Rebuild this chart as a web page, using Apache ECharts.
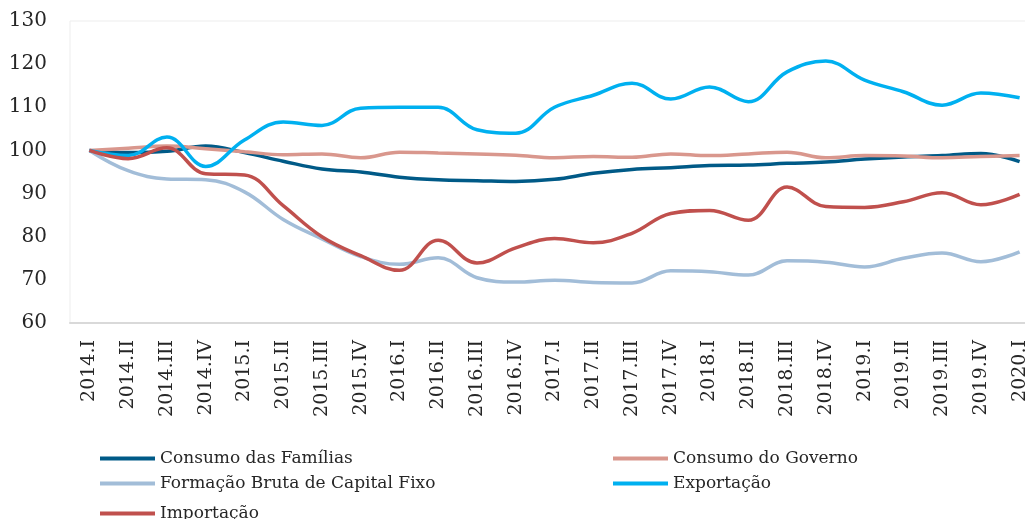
<!DOCTYPE html>
<html>
<head>
<meta charset="utf-8">
<script src="https://cdn.jsdelivr.net/npm/echarts@6/dist/echarts.min.js"></script>
<style>
  html, body { margin: 0; padding: 0; background: #fff; }
  #chart { width: 1025px; height: 519px; }
</style>
</head>
<body>
<div id="chart"></div>
<script>
// trimestres
const categories = [
  '2014.I', '2014.II', '2014.III', '2014.IV',
  '2015.I', '2015.II', '2015.III', '2015.IV',
  '2016.I', '2016.II', '2016.III', '2016.IV',
  '2017.I', '2017.II', '2017.III', '2017.IV',
  '2018.I', '2018.II', '2018.III', '2018.IV',
  '2019.I', '2019.II', '2019.III', '2019.IV',
  '2020.I'
];

// índices (2014.I = 100)
const consumoFamilias = [
  100, 99.5, 99.8, 101, 99.5, 97.5, 95.7, 95, 93.8, 93.2, 93, 92.8,
  93.3, 94.7, 95.6, 96, 96.5, 96.6, 97, 97.3, 98, 98.5, 98.8, 99.3, 97.4
];
const consumoGoverno = [
  100, 100.5, 101, 100.4, 99.7, 99, 99.2, 98.3, 99.6, 99.4, 99.2, 98.9,
  98.3, 98.6, 98.4, 99.2, 98.8, 99.2, 99.6, 98.3, 98.8, 98.7, 98.3, 98.6, 98.8
];
const formacaoBruta = [
  100, 95.3, 93.4, 93.2, 90.4, 84, 79.5, 75.4, 73.6, 75.1, 70.5, 69.5,
  69.9, 69.4, 69.3, 72.1, 71.9, 71.1, 74.4, 74.1, 73, 75, 76.2, 74.2, 76.5
];
const exportacao = [
  100, 98.8, 103.1, 96.3, 102.4, 106.6, 105.8, 109.8, 110, 110, 104.8, 104,
  110, 112.8, 115.6, 111.9, 114.7, 111.3, 118.2, 120.7, 116.3, 113.6, 110.5, 113.3, 112.2
];
const importacao = [
  100, 98.1, 100.6, 94.6, 94.3, 87.2, 80, 75.6, 72.2, 79.2, 73.9, 77.4,
  79.6, 78.6, 80.8, 85.4, 86.1, 83.8, 91.5, 87, 86.8, 88.1, 90.2, 87.4, 89.8
];

const yTicks = { min: 60, max: 130, step: 10 };

const serif = 'DejaVu Serif';
const textColor = '#262626';

const myChart = echarts.init(document.getElementById('chart'));

function lineSerie(name, data, color) {
  return {
    name: name,
    type: 'line',
    data: data,
    smooth: 0.4,
    symbol: 'none',
    lineStyle: { width: 3.5, color: color },
    itemStyle: { color: color }
  };
}

const legendBase = {
  orient: 'vertical',
  icon: 'rect',
  itemWidth: 55,
  itemHeight: 4,
  itemGap: 8,
  textStyle: { fontFamily: serif, fontSize: 17, color: textColor }
};

const option = {
  animation: false,
  backgroundColor: '#fff',
  grid: {
    left: 70,
    top: 21,
    right: -14,
    bottom: 196,
    outerBoundsMode: 'none',
    show: true,
    borderColor: '#EDEDED',
    borderWidth: 1
  },
  legend: [
    Object.assign({}, legendBase, {
      left: 95,
      top: 445,
      data: ['Consumo das Famílias', 'Formação Bruta de Capital Fixo']
    }),
    Object.assign({}, legendBase, {
      left: 95,
      top: 500,
      data: ['Importação']
    }),
    Object.assign({}, legendBase, {
      left: 608,
      top: 445,
      data: ['Consumo do Governo', 'Exportação']
    })
  ],
  xAxis: {
    type: 'category',
    data: categories,
    boundaryGap: true,
    axisLine: { show: true, lineStyle: { color: '#D9D9D9', width: 2 } },
    axisTick: { show: false },
    axisLabel: {
      rotate: 90,
      interval: 0,
      margin: 17,
      fontFamily: serif,
      fontSize: 19,
      color: textColor
    }
  },
  yAxis: {
    type: 'value',
    min: yTicks.min,
    max: yTicks.max,
    interval: yTicks.step,
    axisLine: { show: false },
    axisTick: { show: false },
    splitLine: { show: false },
    axisLabel: {
      margin: 23,
      padding: [6, 0, 0, 0],
      fontFamily: serif,
      fontSize: 20,
      color: textColor
    }
  },
  series: [
    lineSerie('Consumo das Famílias', consumoFamilias, '#005A87'),
    lineSerie('Consumo do Governo', consumoGoverno, '#D9978D'),
    lineSerie('Formação Bruta de Capital Fixo', formacaoBruta, '#A2BDD8'),
    lineSerie('Exportação', exportacao, '#00B0F0'),
    lineSerie('Importação', importacao, '#C0504D')
  ]
};

myChart.setOption(option);
</script>
</body>
</html>
